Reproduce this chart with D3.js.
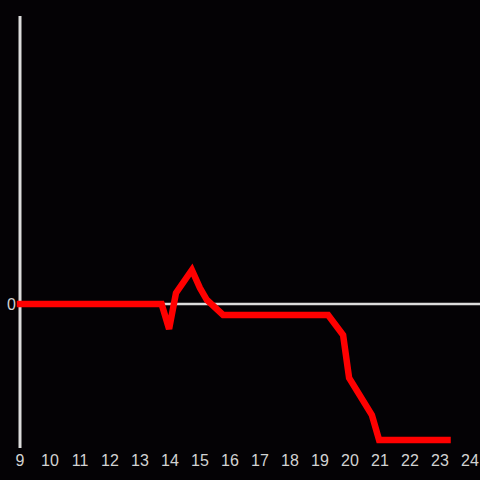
<!DOCTYPE html>
<html>
<head>
<meta charset="utf-8">
<script src="https://cdn.jsdelivr.net/npm/d3@7"></script>
<style>
  html, body { margin: 0; padding: 0; background: #040205; }
  svg { display: block; }
</style>
</head>
<body>
<div id="chart"></div>
<script>
// hours of day and values
var hours = [9, 13.72, 13.97, 14.2, 14.73, 15.0, 15.23, 15.77, 19.27, 19.77, 19.97, 20.73, 20.97, 23.25];
var values = [0, 0, -0.25, 0.11, 0.34, 0.16, 0.04, -0.11, -0.11, -0.31, -0.74, -1.11, -1.36, -1.36];
var xTicks = [9, 10, 11, 12, 13, 14, 15, 16, 17, 18, 19, 20, 21, 22, 23, 24];
var yTicks = [0];

var width = 480, height = 480;

var svg = d3.select("#chart").append("svg")
    .attr("width", width)
    .attr("height", height);

svg.append("rect")
    .attr("width", width)
    .attr("height", height)
    .attr("fill", "#040205");

var x = d3.scaleLinear().domain([9, 24]).range([20, 470]);
var y = d3.scaleLinear().domain([-1.44, 2.88]).range([448, 16]);

var axisColor = "#dcdcdc";
var labelColor = "#d2d2d2";

// y axis line
svg.append("line")
    .attr("x1", x(9)).attr("x2", x(9))
    .attr("y1", y(2.88)).attr("y2", y(-1.44))
    .attr("stroke", axisColor)
    .attr("stroke-width", 3);

// zero line
svg.append("line")
    .attr("x1", x(9)).attr("x2", width)
    .attr("y1", y(0)).attr("y2", y(0))
    .attr("stroke", axisColor)
    .attr("stroke-width", 2.5);

// x tick labels
svg.selectAll(".xlabel")
    .data(xTicks)
    .enter().append("text")
    .attr("class", "xlabel")
    .attr("x", function(d) { return x(d); })
    .attr("y", 466)
    .attr("text-anchor", "middle")
    .attr("fill", labelColor)
    .style("font-family", "'Liberation Sans', Arial, sans-serif")
    .style("font-size", "16px")
    .text(function(d) { return d; });

// y tick labels
svg.selectAll(".ylabel")
    .data(yTicks)
    .enter().append("text")
    .attr("class", "ylabel")
    .attr("x", 16)
    .attr("y", function(d) { return y(d); })
    .attr("dy", "0.35em")
    .attr("text-anchor", "end")
    .attr("fill", labelColor)
    .style("font-family", "'Liberation Sans', Arial, sans-serif")
    .style("font-size", "16px")
    .text(function(d) { return d; });

var line = d3.line()
    .x(function(d, i) { return x(hours[i]); })
    .y(function(d) { return y(d); });

svg.append("path")
    .datum(values)
    .attr("d", line)
    .attr("fill", "none")
    .attr("stroke", "#ff0000")
    .attr("stroke-width", 6.5)
    .attr("stroke-linecap", "square")
    .attr("stroke-linejoin", "miter");
</script>
</body>
</html>
